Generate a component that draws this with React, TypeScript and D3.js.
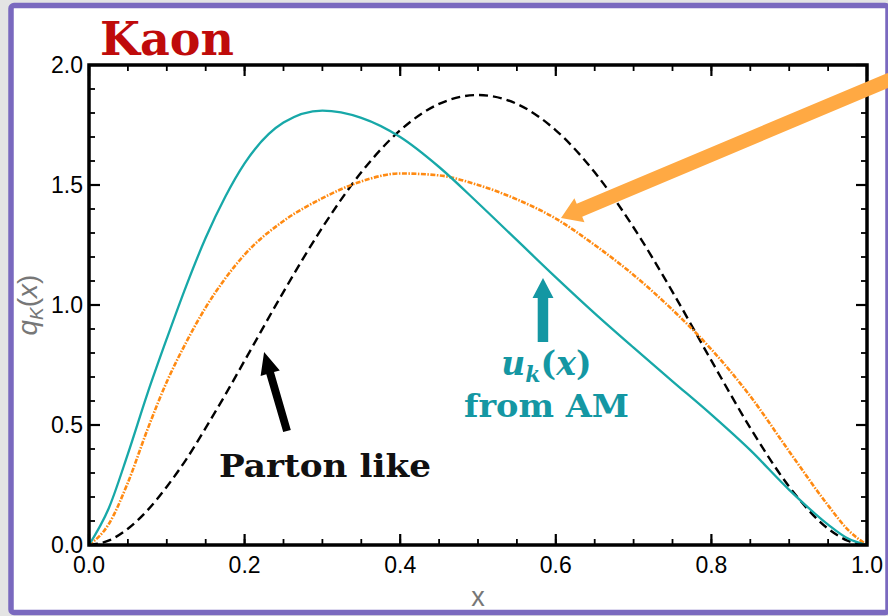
import React from "react";
import * as d3 from "d3";

const W = 888;
const H = 616;

// Data
const xs = [0, 0.025, 0.05, 0.075, 0.1, 0.125, 0.15, 0.175, 0.2, 0.25, 0.3, 0.35, 0.4, 0.45, 0.5, 0.55, 0.6, 0.65, 0.7, 0.75, 0.8, 0.85, 0.9, 0.95, 0.975, 1.0];
const tealValues = [0, 0.15, 0.38, 0.63, 0.86, 1.08, 1.28, 1.45, 1.59, 1.76, 1.81, 1.78, 1.7, 1.575, 1.425, 1.27, 1.115, 0.965, 0.822, 0.682, 0.543, 0.395, 0.23, 0.085, 0.028, 0];
const orangeValues = [0, 0.085, 0.26, 0.48, 0.68, 0.845, 0.99, 1.11, 1.21, 1.35, 1.445, 1.515, 1.548, 1.54, 1.5, 1.44, 1.36, 1.25, 1.125, 0.98, 0.815, 0.62, 0.39, 0.165, 0.065, 0];
const partonValues = [0, 0.018, 0.068, 0.144, 0.243, 0.357, 0.488, 0.625, 0.768, 1.055, 1.323, 1.553, 1.728, 1.838, 1.875, 1.838, 1.728, 1.553, 1.323, 1.055, 0.768, 0.488, 0.243, 0.068, 0.018, 0];

const xMajor = [0, 0.2, 0.4, 0.6, 0.8, 1.0];
const xMinor = d3.range(0, 1.0001, 0.05);
const yMajor = [0, 0.5, 1.0, 1.5, 2.0];
const yMinor = d3.range(0, 2.0001, 0.1);

const x = d3.scaleLinear().domain([0, 1]).range([89, 867]);
const y = d3.scaleLinear().domain([0, 2]).range([545, 65]);

function arrowPath(tx: number, ty: number, px: number, py: number, w: number, hw: number, hl: number) {
  const dx = px - tx, dy = py - ty;
  const len = Math.hypot(dx, dy);
  const ux = dx / len, uy = dy / len;
  const nx = -uy, ny = ux;
  const bx = px - ux * hl, by = py - uy * hl;
  const pts = [
    [tx + nx * w / 2, ty + ny * w / 2],
    [bx + nx * w / 2, by + ny * w / 2],
    [bx + nx * hw / 2, by + ny * hw / 2],
    [px, py],
    [bx - nx * hw / 2, by - ny * hw / 2],
    [bx - nx * w / 2, by - ny * w / 2],
    [tx - nx * w / 2, ty - ny * w / 2],
  ];
  return "M" + pts.map((p) => p[0].toFixed(1) + "," + p[1].toFixed(1)).join("L") + "Z";
}

export default function App() {
  const line = (vals: number[]) =>
    d3
      .line<number>()
      .x((_, i) => x(xs[i]))
      .y((v) => y(v))
      .curve(d3.curveMonotoneX)(vals) as string;

  const f = (v: number) => v.toFixed(1);
  const serif = "'DejaVu Serif', serif";
  const sans = "'Liberation Sans', Arial, sans-serif";
  const teal = "#1497a3";

  return (
    <svg width={W} height={H} style={{ position: "absolute", left: 0, top: 0 }}>
      <rect x={0} y={0} width={W} height={H} fill="#e4e4e4" />
      <rect x={11} y={5.5} width={877} height={607} fill="#ffffff" stroke="#7a69bf" strokeWidth={5.5} rx={3} />

      {/* title */}
      <text x={100} y={55} fontFamily={serif} fontWeight="bold" fontSize={46} fill="#bf0b0b">Kaon</text>

      {/* curves */}
      <path d={line(partonValues)} fill="none" stroke="#000" strokeWidth={2.4} strokeDasharray="9,5" />
      <path d={line(orangeValues)} fill="none" stroke="#ff8a12" strokeWidth={2.6} strokeDasharray="5,1.5,1.5,1.5" />
      <path d={line(tealValues)} fill="none" stroke="#17a8a8" strokeWidth={2.3} />

      {/* frame ticks */}
      {xMinor.map((t, i) => (
        <g key={"xm" + i}>
          <line x1={x(t)} x2={x(t)} y1={545} y2={539} stroke="#000" strokeWidth={1.8} />
          <line x1={x(t)} x2={x(t)} y1={65} y2={71} stroke="#000" strokeWidth={1.8} />
        </g>
      ))}
      {xMajor.map((t, i) => (
        <g key={"xM" + i}>
          <line x1={x(t)} x2={x(t)} y1={545} y2={534} stroke="#000" strokeWidth={2.2} />
          <line x1={x(t)} x2={x(t)} y1={65} y2={76} stroke="#000" strokeWidth={2.2} />
          <text x={x(t)} y={573} textAnchor="middle" fontFamily={sans} fontSize={23} fill="#000">{f(t)}</text>
        </g>
      ))}
      {yMinor.map((t, i) => (
        <g key={"ym" + i}>
          <line x1={89} x2={95} y1={y(t)} y2={y(t)} stroke="#000" strokeWidth={1.8} />
          <line x1={867} x2={861} y1={y(t)} y2={y(t)} stroke="#000" strokeWidth={1.8} />
        </g>
      ))}
      {yMajor.map((t, i) => (
        <g key={"yM" + i}>
          <line x1={89} x2={100} y1={y(t)} y2={y(t)} stroke="#000" strokeWidth={2.2} />
          <line x1={867} x2={856} y1={y(t)} y2={y(t)} stroke="#000" strokeWidth={2.2} />
          <text x={83} y={y(t) + 8} textAnchor="end" fontFamily={sans} fontSize={23} fill="#000">{f(t)}</text>
        </g>
      ))}
      <rect x={89} y={65} width={778} height={480} fill="none" stroke="#000" strokeWidth={3.5} />

      {/* axis labels */}
      <text x={478} y={606} textAnchor="middle" fontFamily={sans} fontSize={27} fill="#777">x</text>
      <text transform="translate(37,305) rotate(-90)" textAnchor="middle" fontFamily={sans} fontSize={28} fill="#777">
        <tspan fontStyle="italic">q</tspan>
        <tspan fontStyle="italic" fontSize={19} dy={6}>K</tspan>
        <tspan dy={-6}>(</tspan>
        <tspan fontStyle="italic">x</tspan>
        <tspan>)</tspan>
      </text>

      {/* annotations */}
      <path d={arrowPath(x(0.2545), y(0.475), x(0.225), y(0.804), 8, 20, 22)} fill="#000" />
      <text x={x(0.167)} y={y(0.283)} fontFamily={serif} fontWeight="bold" fontSize={31} fill="#111" textLength={212} lengthAdjust="spacingAndGlyphs">Parton like</text>

      <path d={arrowPath(x(0.5835), y(0.846), x(0.5835), y(1.1125), 10.5, 21, 20)} fill={teal} />
      <text x={x(0.588)} y={y(0.708)} textAnchor="middle" fontFamily={serif} fontWeight="bold" fontSize={33} fill={teal}>
        <tspan fontStyle="italic">u</tspan>
        <tspan fontStyle="italic" fontSize={22} dy={7}>k</tspan>
        <tspan dy={-7}>(</tspan>
        <tspan fontStyle="italic">x</tspan>
        <tspan>)</tspan>
      </text>
      <text x={x(0.588)} y={y(0.533)} textAnchor="middle" fontFamily={serif} fontWeight="bold" fontSize={32} fill={teal} textLength={165} lengthAdjust="spacingAndGlyphs">from AM</text>

      <path d={arrowPath(x(1.03), y(1.94), x(0.6067), y(1.3625), 14, 26, 20)} fill="#ffa943" />
    </svg>
  );
}
